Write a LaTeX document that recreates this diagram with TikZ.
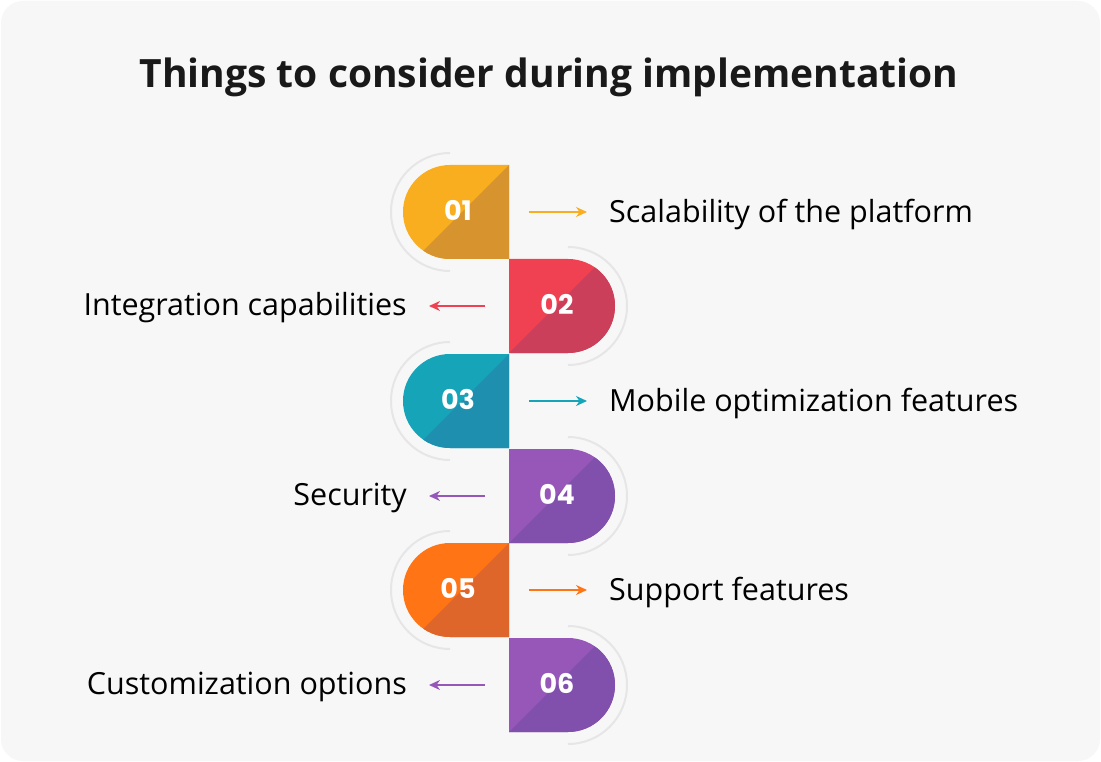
\documentclass[tikz,border=0pt]{standalone}
\usepackage{fontspec}
\setmainfont{Open Sans}
\newfontfamily\numfont{Poppins}
\usetikzlibrary{arrows.meta}
\definecolor{bgcol}{HTML}{F7F7F7}
\definecolor{ringcol}{HTML}{E6E6E6}
\definecolor{yelA}{HTML}{F8AE1E}\definecolor{yelB}{HTML}{D6932E}
\definecolor{redA}{HTML}{EF4151}\definecolor{redB}{HTML}{CB3F5A}
\definecolor{tealA}{HTML}{16A4B8}\definecolor{tealB}{HTML}{1E8FAF}
\definecolor{purA}{HTML}{9657B8}\definecolor{purB}{HTML}{8150AC}
\definecolor{oraA}{HTML}{FF7414}\definecolor{oraB}{HTML}{DF662A}
\tikzset{
  lbl/.style={inner sep=0pt, font=\fontsize{30.5}{33}\selectfont},
  num/.style={inner sep=0pt, text=white, font=\numfont\bfseries\fontsize{27}{30}\selectfont},
  ring/.style={ringcol, line width=2pt},
  pointer/.style={line width=1.8pt, -{Stealth[length=11pt,width=10pt]}}
}
\begin{document}
\begin{tikzpicture}[x=1pt,y=-1pt]
\useasboundingbox (0,0) rectangle (1101,762);
\fill[white] (0,0) rectangle (1101,762);
\fill[bgcol, rounded corners=22pt] (1,1) rectangle (1100,761);
\node[font=\fontsize{39}{44}\selectfont\bfseries, text=black!90] (title) at (549,77) {Things to consider during implementation};
% left-hand shapes: 1,3,5 ; right-hand shapes: 2,4,6
\foreach \i/\y/\ca/\cb/\txt in {1/212/yelA/yelB/Scalability of the platform,
    3/401/tealA/tealB/Mobile optimization features,
    5/590/oraA/oraB/Support features}{
  \draw[ring] (450,\y-59) arc[start angle=-90,end angle=-270,radius=59];
  \begin{scope}
    \clip (509,\y-47) -- (450,\y-47) arc[start angle=-90,end angle=-270,radius=47] -- (509,\y+47) -- cycle;
    \fill[\ca] (380,\y-60) rectangle (520,\y+60);
    \fill[\cb] (509,\y-47) -- (380,\y+82) -- (520,\y+82) -- cycle;
  \end{scope}
  \node[num] (n\i) at (458,\y-2) {0\i};
  \coordinate (a\i) at (529,\y);
  \node[lbl, anchor=west] (l\i) at (609,\y+2) {\txt};
  \draw[pointer, \ca] (a\i) -- ([xshift=-22pt,yshift=2pt]l\i.west);
}
\foreach \i/\y/\ca/\cb/\txt in {2/306/redA/redB/Integration capabilities,
    4/496/purA/purB/Security,
    6/685/purA/purB/Customization options}{
  \draw[ring] (568,\y-59) arc[start angle=-90,end angle=90,radius=59];
  \begin{scope}
    \clip (509,\y-47) -- (568,\y-47) arc[start angle=-90,end angle=90,radius=47] -- (509,\y+47) -- cycle;
    \fill[\ca] (500,\y-60) rectangle (640,\y+60);
    \fill[\cb] (509,\y+47) -- (660,\y-104) -- (660,\y+60) -- cycle;
  \end{scope}
  \node[num] (n\i) at (557,\y-2) {0\i};
  \coordinate (a\i) at (485,\y);
  \node[lbl, anchor=east] (l\i) at (407,\y+2) {\txt};
  \draw[pointer, \ca] (a\i) -- ([xshift=22pt,yshift=2pt]l\i.east);
}
\end{tikzpicture}
\end{document}
